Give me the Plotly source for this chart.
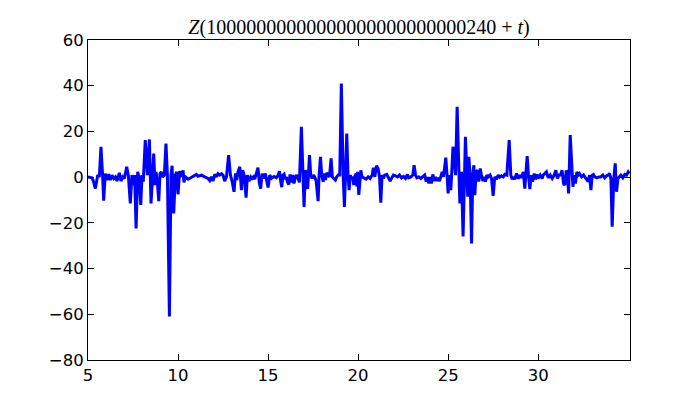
import plotly.graph_objects as go

# Values (t offset, Z value)
t_vals = [
    5.00, 5.04, 5.22, 5.30, 5.41, 5.54, 5.63, 5.72, 5.81, 5.87, 5.96, 6.06, 6.15, 6.24, 6.33, 6.43,
    6.52, 6.61, 6.74, 6.83, 6.93, 7.02, 7.15, 7.24, 7.35, 7.44, 7.54, 7.59, 7.67, 7.76, 7.85, 7.93,
    8.00, 8.07, 8.18, 8.30, 8.41, 8.50, 8.59, 8.65, 8.72, 8.78, 8.85, 8.93, 9.00, 9.07, 9.15, 9.24,
    9.33, 9.41, 9.52, 9.61, 9.67, 9.76, 9.85, 9.93, 10.00,
    10.09, 10.19, 10.28, 10.33, 10.41, 10.56, 10.74, 10.93, 11.02, 11.11, 11.30, 11.48, 11.67, 11.76,
    11.85, 11.94, 12.04, 12.13, 12.22, 12.31, 12.41, 12.50, 12.59, 12.69, 12.81, 12.91, 13.00, 13.11,
    13.19, 13.26, 13.33, 13.43, 13.52, 13.59, 13.67, 13.78, 13.85, 13.94, 14.04, 14.11, 14.19, 14.26,
    14.33, 14.44, 14.52, 14.59, 14.67, 14.74, 14.85, 14.93, 15.00,
    15.09, 15.19, 15.33, 15.46, 15.56, 15.63, 15.70, 15.76, 15.83, 15.89, 15.96, 16.02, 16.07, 16.15,
    16.22, 16.30, 16.37, 16.44, 16.52, 16.59, 16.67, 16.74, 16.85, 16.93, 17.00, 17.07, 17.15, 17.20,
    17.30, 17.37, 17.44, 17.52, 17.59, 17.67, 17.78, 17.83, 17.91, 17.98, 18.06, 18.13, 18.19, 18.26,
    18.33, 18.41, 18.50, 18.57, 18.65, 18.74, 18.81, 18.89, 18.98, 19.07, 19.17, 19.24, 19.30, 19.37,
    19.44, 19.50, 19.57, 19.63, 19.70, 19.76, 19.81, 19.89, 19.94, 19.97, 20.04,
    20.15, 20.22, 20.33, 20.44, 20.56, 20.67, 20.78, 20.85, 20.93, 21.02, 21.11, 21.19, 21.26, 21.33,
    21.41, 21.48, 21.59, 21.67, 21.78, 21.85, 21.96, 22.07, 22.19, 22.30, 22.41, 22.52, 22.63, 22.74,
    22.81, 22.93, 23.04, 23.11, 23.19, 23.26, 23.37, 23.48, 23.59, 23.70, 23.78, 23.85, 23.93, 24.00,
    24.07, 24.15, 24.22, 24.30, 24.37, 24.44, 24.52, 24.59, 24.67, 24.74, 24.81, 24.87, 24.94, 25.00,
    25.07, 25.15, 25.27, 25.41, 25.50, 25.59, 25.65, 25.74, 25.83, 25.91, 25.96, 26.04, 26.09, 26.15,
    26.22, 26.30, 26.37, 26.43, 26.48, 26.56, 26.63, 26.70, 26.78, 26.85, 26.93, 27.00, 27.07, 27.15,
    27.22, 27.33, 27.41, 27.50, 27.59, 27.69, 27.78, 27.87, 27.96, 28.06, 28.15, 28.26, 28.39, 28.48,
    28.56, 28.63, 28.70, 28.80, 28.89, 28.98, 29.07, 29.17, 29.26, 29.31, 29.39, 29.46, 29.54, 29.61,
    29.69, 29.78, 29.85, 29.93, 30.00, 30.11, 30.22,
    30.28, 30.37, 30.46, 30.56, 30.67, 30.78, 30.89, 30.98, 31.07, 31.15, 31.24, 31.33, 31.41, 31.48,
    31.56, 31.63, 31.69, 31.78, 31.87, 31.93, 32.00, 32.07, 32.15, 32.22, 32.30, 32.41, 32.52, 32.59,
    32.70, 32.78, 32.85, 32.93, 33.00, 33.07, 33.15, 33.26, 33.37, 33.48, 33.59, 33.70, 33.80, 33.89,
    33.96, 34.04, 34.11, 34.20, 34.28, 34.35, 34.43, 34.52, 34.59, 34.70, 34.81, 34.91, 35.00, 35.07,
]

z_vals = [
    0.5, 0.0, -0.3, -1.7, -5.0, 0.9, 0.1, 13.3, 0.9, -10.3, 1.5, -1.3, 1.3, -1.3, 0.9, -0.6,
    0.1, -1.7, 1.9, -1.7, 0.1, -0.6, 4.5, 0.9, -11.5, 0.9, -3.5, 0.9, -22.4, 2.3, -0.6, -12.2,
    0.9, -2.0, 16.2, 0.9, 16.5, -11.5, 0.9, 10.3, -3.5, 2.3, -2.0, -10.5, 1.6, 2.3, 0.1, 0.9,
    14.7, 0.9, -61.0, 0.9, 5.0, -15.9, 0.9, 2.3, -7.5,
    2.6, 0.1, 3.0, -2.3, 0.1, -0.9, 0.0, 0.6, 1.2, 0.4, 0.9, 0.1, -0.6, -1.5,
    0.1, -1.7, 1.2, 0.1, 1.5, 0.9, 1.5, 0.9, -1.7, 0.1, 9.6, 0.9, -1.7, -6.4,
    1.6, -1.3, 2.3, 4.5, -5.7, 3.0, 0.9, -9.0, 0.9, -1.7, 0.1, -0.6, 0.1, -0.9,
    0.9, 4.2, -2.8, -5.0, 1.5, -0.6, 1.6, -2.0, -4.5,
    0.9, -0.5, 0.3, -0.3, 0.9, 2.6, -1.7, -4.4, 0.9, 1.3, -0.9, 0.1, -2.0, -3.2,
    1.2, -2.3, 0.9, -2.8, 0.1, 0.9, -0.6, -2.3, 22.0, 0.9, -13.0, 3.0, 0.9, -5.2,
    9.6, 0.9, -0.6, 0.9, 0.1, -1.7, -10.5, 0.1, 8.9, 0.9, -2.0, 1.6, -1.3, 1.9,
    0.9, 0.1, 8.2, 0.1, -0.6, -1.3, 0.1, 0.9, 0.9, 41.0, 0.9, -13.0, 0.9, 19.1,
    0.9, -5.7, 0.9, -0.6, 0.1, -3.5, 0.1, 1.6, -4.2, 2.3, -7.8,
    3.0, 0.1, -0.3, -0.9, 0.1, -0.6, 0.9, 4.1, 0.1, 5.0, 3.8, 0.1, -11.2, 0.9,
    -0.6, 0.9, 1.2, 0.1, -1.7, -0.6, 0.9, 0.6, 0.1, 0.9, -0.3, 0.3, -0.6, 1.2,
    -0.3, 0.1, 0.9, 5.2, 0.9, -0.3, 0.1, -0.6, 0.1, 0.9, -2.0, 0.0, -2.8, 0.1,
    -2.8, 1.2, -1.7, 0.1, -1.7, -0.3, -1.7, 0.9, 2.3, 0.1, 5.0, 8.5, 0.9, -7.1,
    0.9, -5.7, 13.3, 0.9, 30.8, 0.9, -11.5, 2.3, -26.0, 0.9, 17.6, 0.9, -8.6, 8.9,
    0.9, -29.0, 0.9, 5.2, -7.9, 2.3, 3.0, -2.0, 3.8, 0.9, -1.7, 0.1, -2.0, 0.9,
    0.1, 0.9, -0.6, -8.2, 0.1, -0.9, 0.9, 0.0, 0.6, 0.1, 1.2, 0.9, 16.2, 0.9,
    -0.9, 0.1, -0.9, 1.6, -0.6, 0.9, -0.3, 2.3, -5.0, 0.9, 9.2, 0.9, -5.2, 0.9,
    -2.0, 1.6, -0.9, 1.2, -0.6, 0.9, -0.6,
    0.9, 1.5, 2.3, -0.3, 0.9, -0.6, 0.9, 3.0, -0.6, 0.9, 0.9, 3.0, -2.8, -3.5,
    3.0, 0.9, -7.1, 18.4, 0.9, -4.2, 0.9, -2.8, 2.3, 0.9, 1.6, 0.1, 0.9, 0.1,
    -0.6, -2.0, 0.9, -5.7, 0.9, 1.2, 0.1, -0.3, 0.1, 0.1, 0.9, -0.3, 0.6, 0.9,
    1.6, -0.6, -21.7, -0.6, 6.0, -6.4, -0.6, 0.1, 0.9, -0.3, 1.2, 0.9, 2.3, 1.6,
]

x_ticks = [5, 10, 15, 20, 25, 30]
y_ticks = [-80, -60, -40, -20, 0, 20, 40, 60]
title_text = "<i>Z</i>(10000000000000000000000000240 + <i>t</i>)"

fig = go.Figure()
fig.add_trace(go.Scatter(
    x=t_vals, y=z_vals, mode="lines",
    line=dict(color="#0000ff", width=3),
    showlegend=False, hoverinfo="skip",
))

axis_common = dict(
    showgrid=False, zeroline=False, showline=True, linecolor="black", linewidth=1,
    mirror="ticks", ticks="inside", ticklen=6, tickwidth=1, tickcolor="black",
    tickfont=dict(family="DejaVu Sans", size=16.5, color="black"),
)

fig.update_layout(
    width=692, height=392,
    margin=dict(l=80, r=70, t=32, b=40),
    paper_bgcolor="white", plot_bgcolor="white",
    title=dict(
        text=title_text, x=0.5, xref="paper", xanchor="center",
        y=1, yref="paper", yanchor="bottom", pad=dict(b=6),
        font=dict(family="Liberation Serif", size=20, color="black"),
    ),
    xaxis=dict(range=[5, 35.1], tickvals=x_ticks, ticktext=[str(v) for v in x_ticks], **axis_common),
    yaxis=dict(range=[-80, 60], tickvals=y_ticks, **axis_common),
)

fig.write_html("out.html")
